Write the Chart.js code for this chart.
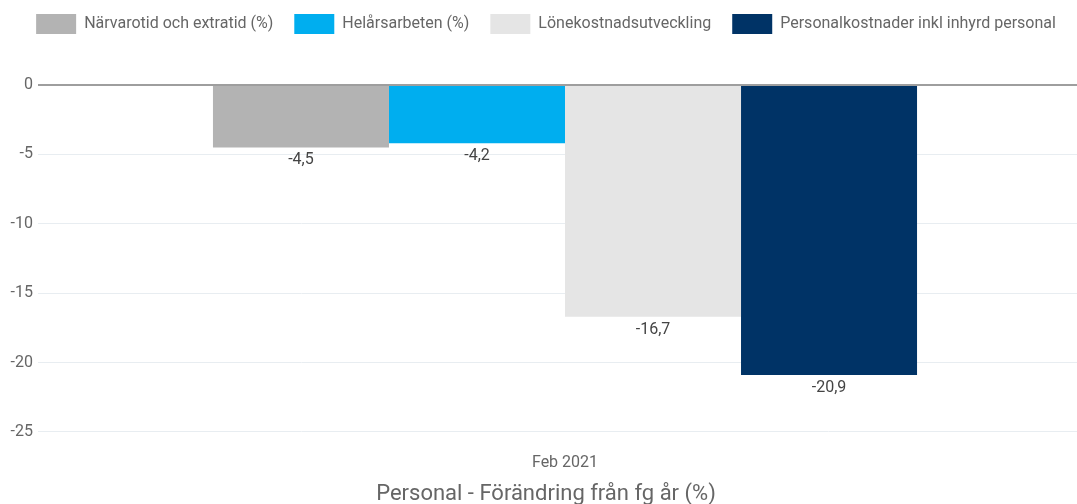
<!DOCTYPE html>
<html>
<head>
<meta charset="utf-8">
<script src="https://cdn.jsdelivr.net/npm/chart.js@4"></script>
<style>
  html, body { margin: 0; padding: 0; background: #fff; overflow: hidden; }
  #wrap { width: 1092px; height: 504px; }
</style>
</head>
<body>
<div id="wrap"><canvas id="bar-chart"></canvas></div>
<script>
// data
const categories = ['Feb 2021'];
const seriesNames = ['Närvarotid och extratid (%)', 'Helårsarbeten (%)', 'Lönekostnadsutveckling', 'Personalkostnader inkl inhyrd personal'];
const seriesValues = [[-4.5], [-4.2], [-16.7], [-20.9]];
const seriesColors = ['#b3b3b3', '#00aeef', '#e5e5e5', '#003366'];
const yTicks = [0, -5, -10, -15, -20, -25];

// draws the value under each bar, with a decimal comma
const valueLabels = {
    id: 'valueLabels',
    afterDatasetsDraw(chart) {
        const ctx = chart.ctx;
        ctx.save();
        ctx.font = '16px Roboto';
        ctx.fillStyle = '#444';
        ctx.textAlign = 'center';
        ctx.textBaseline = 'middle';
        chart.data.datasets.forEach((ds, i) => {
            chart.getDatasetMeta(i).data.forEach((bar, j) => {
                const txt = ds.data[j].toFixed(1).replace('.', ',');
                ctx.fillText(txt, bar.x, bar.y + 13);
            });
        });
        ctx.restore();
    }
};

// extra room between the legend and the plot
const legendGap = {
    id: 'legendGap',
    beforeInit(chart) {
        const fit = chart.legend.fit;
        chart.legend.fit = function () {
            fit.bind(chart.legend)();
            this.height += 41;
        };
    }
};

const ctx = document.getElementById('bar-chart').getContext('2d');
new Chart(ctx, {
    type: 'bar',
    data: {
        labels: categories,
        datasets: seriesNames.map((name, i) => ({
            label: name,
            data: seriesValues[i],
            backgroundColor: seriesColors[i],
            borderWidth: 0,
            barPercentage: 1,
            categoryPercentage: 0.668
        }))
    },
    options: {
        responsive: true,
        maintainAspectRatio: false,
        animation: false,
        layout: { padding: { top: -7, left: 0, right: 0, bottom: 0 } },
        plugins: {
            legend: {
                position: 'top',
                labels: {
                    boxWidth: 40,
                    boxHeight: 20,
                    padding: 21,
                    color: '#666',
                    font: { family: 'Roboto', size: 16 }
                }
            },
            title: {
                display: true,
                position: 'bottom',
                text: 'Personal - Förändring från fg år (%)',
                color: '#666',
                font: { family: 'Roboto', size: 22, weight: 'normal', lineHeight: 1 },
                padding: { top: 2, bottom: -1 }
            },
            tooltip: { enabled: false }
        },
        scales: {
            x: {
                grid: { display: false, drawTicks: false },
                border: { display: false },
                ticks: { color: '#666', padding: 8, font: { family: 'Roboto', size: 16 } }
            },
            y: {
                min: -26,
                max: 0,
                afterBuildTicks: (axis) => {
                    axis.ticks = yTicks.slice().reverse().map(v => ({ value: v }));
                },
                afterFit: (axis) => { axis.width = 38; },
                border: { display: false },
                grid: {
                    color: (c) => c.tick && c.tick.value === 0 ? '#9e9e9e' : '#e8edf1',
                    lineWidth: (c) => c.tick && c.tick.value === 0 ? 2 : 1,
                    drawTicks: false
                },
                ticks: {
                    color: '#666',
                    padding: 5,
                    font: { family: 'Roboto', size: 16 }
                }
            }
        }
    },
    plugins: [valueLabels, legendGap]
});
</script>
</body>
</html>
